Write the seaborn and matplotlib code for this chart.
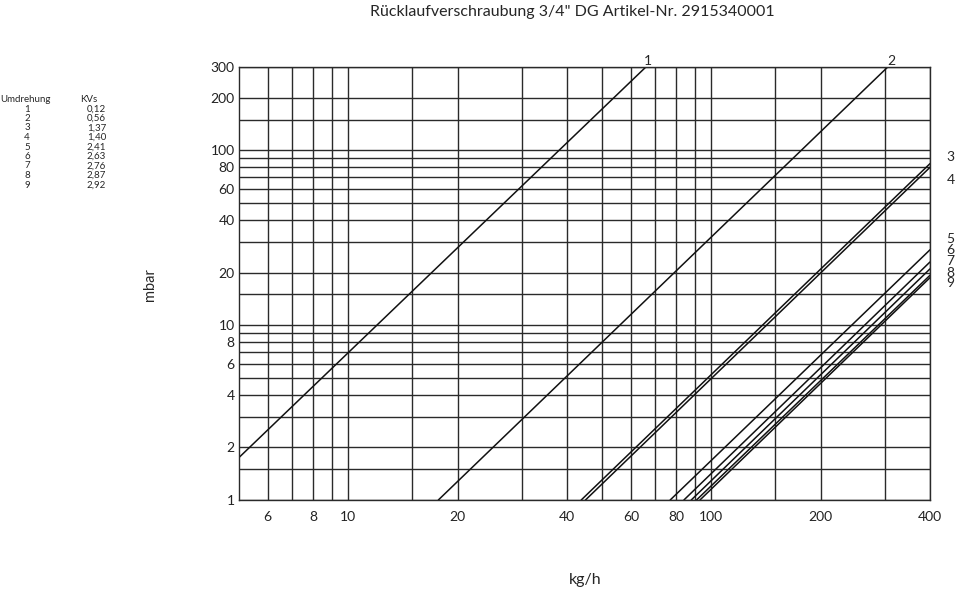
import matplotlib
matplotlib.use("Agg")
import matplotlib.pyplot as plt
import seaborn as sns
import pandas as pd
from matplotlib.ticker import FixedLocator, NullFormatter, FuncFormatter

# Table: Umdrehung / KVs
umdrehung = ["1", "2", "3", "4", "5", "6", "7", "8", "9"]
kvs = ["0,12", "0,56", "1,37", "1,40", "2,41", "2,63", "2,76", "2,87", "2,92"]

# curve end points (kg/h, mbar)
line_names = ["1", "2", "3", "4", "5", "6", "7", "8", "9"]
x_start = [5, 17.7, 43.8, 45.0, 77.0, 84.0, 88.0, 91.0, 93.0]
y_start = [1.75, 1, 1, 1, 1, 1, 1, 1, 1]
x_end = [66, 306, 400, 400, 400, 400, 400, 400, 400]
y_end = [300, 300, 84, 80, 27, 23, 21, 19.3, 18.7]

# right-hand curve labels (mbar where label sits)
right_labels = ["3", "4", "5", "6", "7", "8", "9"]
right_label_y = [92, 68, 31, 26.8, 23.2, 20.0, 17.4]

x_major = [6, 8, 10, 20, 40, 60, 80, 100, 200, 400]
x_minor = [7, 9, 15, 30, 50, 70, 90, 150, 300]
y_major = [1, 2, 4, 6, 8, 10, 20, 40, 60, 80, 100, 200, 300]
y_minor = [1.5, 3, 5, 7, 9, 15, 30, 50, 70, 90, 150]

sns.set_style("white")
plt.rcParams["font.family"] = ["Lato", "DejaVu Sans"]

fig = plt.figure(figsize=(9.55, 5.9), dpi=100)
ax = fig.add_axes([239 / 955, 1 - 500 / 590, 691 / 955, 433 / 590])

for i, name in enumerate(line_names):
    df = pd.DataFrame({"kg/h": [x_start[i], x_end[i]], "mbar": [y_start[i], y_end[i]]})
    sns.lineplot(data=df, x="kg/h", y="mbar", color="#111111", linewidth=1.1, ax=ax)

ax.set_xscale("log")
ax.set_yscale("log")
ax.set_xlim(5, 400)
ax.set_ylim(1, 300)

ax.xaxis.set_major_locator(FixedLocator(x_major))
ax.xaxis.set_minor_locator(FixedLocator(x_minor))
ax.yaxis.set_major_locator(FixedLocator(y_major))
ax.yaxis.set_minor_locator(FixedLocator(y_minor))
fmt = FuncFormatter(lambda v, p: f"{v:g}")
ax.xaxis.set_major_formatter(fmt)
ax.yaxis.set_major_formatter(fmt)
ax.xaxis.set_minor_formatter(NullFormatter())
ax.yaxis.set_minor_formatter(NullFormatter())
ax.tick_params(which="both", length=0, labelsize=10, colors="#222222")
ax.tick_params(axis="x", pad=8)
ax.tick_params(axis="y", pad=3)

ax.grid(True, which="both", color="#2a2a2a", linewidth=1.0)
for s in ax.spines.values():
    s.set_color("#2a2a2a")
    s.set_linewidth(1.0)

ax.set_xlabel("")
ax.set_ylabel("")

# curve labels
ax.text(x_end[0] * 1.01, 300, line_names[0], ha="center", va="bottom", fontsize=10)
ax.text(x_end[1] * 1.02, 300, line_names[1], ha="center", va="bottom", fontsize=10)
trans = ax.get_yaxis_transform()
for lab, yv in zip(right_labels, right_label_y):
    ax.text(1.03, yv, lab, transform=trans, ha="center", va="center", fontsize=10)

# title and axis titles
fig.text(572 / 955, 1 - 12 / 590, 'Rücklaufverschraubung 3/4" DG Artikel-Nr. 2915340001',
         ha="center", va="center", fontsize=11.5)
fig.text(150 / 955, 1 - 285 / 590, "mbar", rotation=90, ha="center", va="center", fontsize=10.5)
fig.text(585 / 955, 1 - 580 / 590, "kg/h", ha="center", va="center", fontsize=11.5)

# Umdrehung / KVs table
fig.text(0 / 955, 1 - 100 / 590, "Umdrehung", ha="left", va="center", fontsize=7)
fig.text(80 / 955, 1 - 100 / 590, "KVs", ha="left", va="center", fontsize=7)
for i, (u, k) in enumerate(zip(umdrehung, kvs)):
    yy = 1 - (109 + i * 9.5) / 590
    fig.text(27 / 955, yy, u, ha="center", va="center", fontsize=7)
    fig.text(106 / 955, yy, k, ha="right", va="center", fontsize=7)

fig.savefig("out.png", dpi=100, facecolor="white")
